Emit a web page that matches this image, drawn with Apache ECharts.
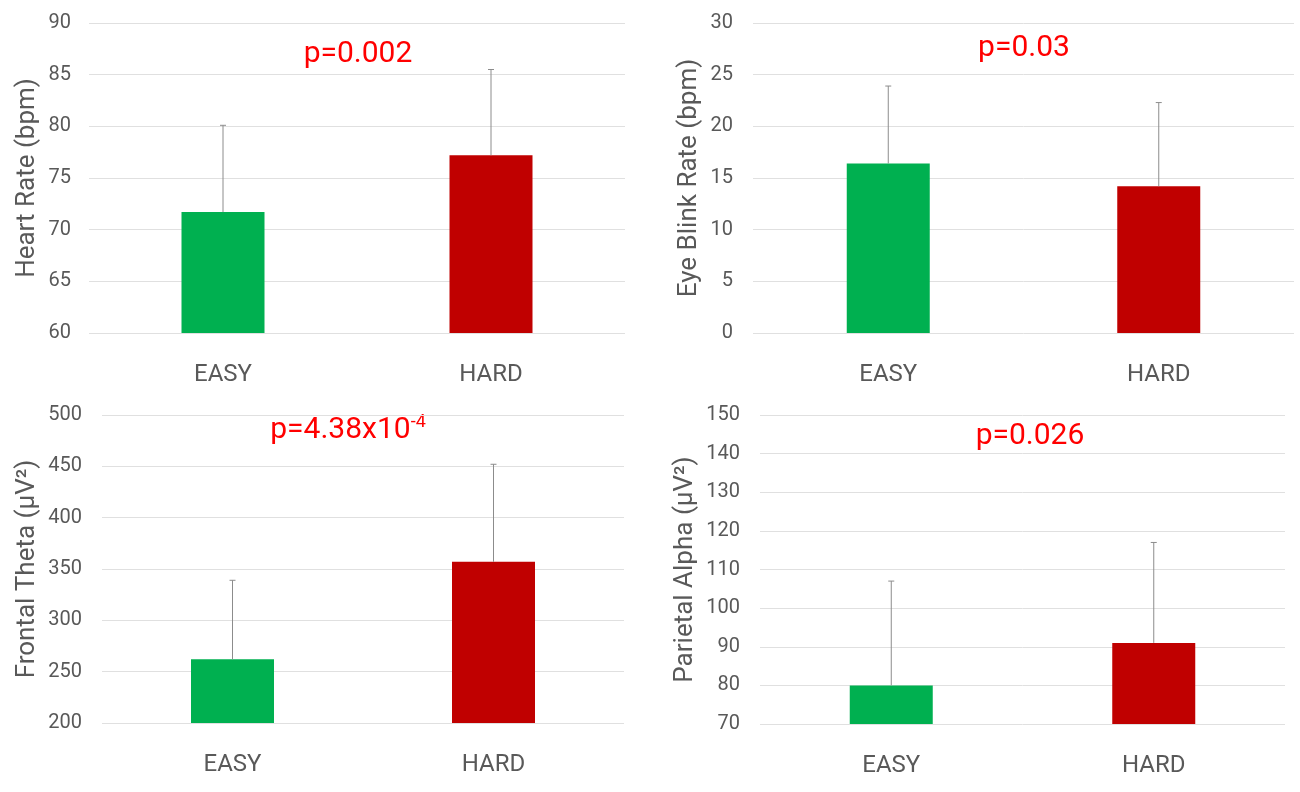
<!DOCTYPE html>
<html>
<head>
<meta charset="utf-8">
<script src="https://cdn.jsdelivr.net/npm/echarts@6/dist/echarts.min.js"></script>
<style>
  html, body { margin: 0; padding: 0; background: #fff; }
  #main { width: 1300px; height: 792px; }
</style>
</head>
<body>
<div id="main"></div>
<script>
// data
var categories = ['EASY', 'HARD'];

var heartRate = [71.7, 77.2];
var heartRateSd = [8.4, 8.3];

var blinkRate = [16.4, 14.2];
var blinkRateSd = [7.5, 8.1];

var frontalTheta = [262, 357];
var frontalThetaSd = [77, 95];

var parietalAlpha = [80, 91];
var parietalAlphaSd = [27, 26];

var pLabels = ['p=0.002', 'p=0.03', '{a|p=4.38x10}{b|-4}', 'p=0.026'];

var barColors = ['#00b050', '#c00000'];
var gray = '#595959';
var font = 'Roboto, sans-serif';

var panels = [
    { name: 'Heart Rate (bpm)', mean: heartRate, sd: heartRateSd, min: 60, max: 90, interval: 5,
      grid: { left: 89, top: 23, width: 536, height: 310 }, gap: 49, margin: 18 },
    { name: 'Eye Blink Rate (bpm)', mean: blinkRate, sd: blinkRateSd, min: 0, max: 30, interval: 5,
      grid: { left: 753, top: 23, width: 541, height: 310 }, gap: 51, margin: 20 },
    { name: 'Frontal Theta (\u00b5V\u00b2)', mean: frontalTheta, sd: frontalThetaSd, min: 200, max: 500, interval: 50,
      grid: { left: 102, top: 415, width: 522, height: 308 }, gap: 62, margin: 20 },
    { name: 'Parietal Alpha (\u00b5V\u00b2)', mean: parietalAlpha, sd: parietalAlphaSd, min: 70, max: 150, interval: 10,
      grid: { left: 760, top: 415, width: 525, height: 309 }, gap: 62, margin: 20 }
];

var pPos = [[358, 54], [1024, 48], [348, 430], [1030, 436]];

var grids = [], xAxes = [], yAxes = [], series = [], graphics = [];

panels.forEach(function (p, i) {
    grids.push(p.grid);
    xAxes.push({
        type: 'category',
        gridIndex: i,
        data: categories,
        axisLine: { show: false },
        axisTick: { show: false },
        axisLabel: { color: gray, fontSize: 24, fontFamily: font, margin: 30 }
    });
    yAxes.push({
        type: 'value',
        gridIndex: i,
        min: p.min,
        max: p.max,
        interval: p.interval,
        name: p.name,
        nameLocation: 'middle',
        nameGap: p.gap,
        nameTextStyle: { color: gray, fontSize: 26, fontFamily: font },
        axisLine: { show: false },
        axisTick: { show: false },
        axisLabel: { color: gray, fontSize: 20, fontFamily: font, margin: p.margin },
        splitLine: { lineStyle: { color: '#e0e0e0', width: 1 } }
    });
    series.push({
        type: 'bar',
        xAxisIndex: i,
        yAxisIndex: i,
        barWidth: 83,
        data: p.mean.map(function (v, k) {
            return { value: v, itemStyle: { color: barColors[k] } };
        })
    });
    // upper whisker only
    series.push({
        type: 'custom',
        xAxisIndex: i,
        yAxisIndex: i,
        z: 3,
        data: p.mean.map(function (v, k) { return [k, v, v + p.sd[k]]; }),
        renderItem: function (params, api) {
            var lo = api.coord([api.value(0), api.value(1)]);
            var hi = api.coord([api.value(0), api.value(2)]);
            var style = { stroke: '#8c8c8c', lineWidth: 1 };
            return {
                type: 'group',
                children: [
                    { type: 'line', shape: { x1: lo[0], y1: lo[1], x2: hi[0], y2: hi[1] }, style: style },
                    { type: 'line', shape: { x1: hi[0] - 3, y1: hi[1], x2: hi[0] + 3, y2: hi[1] }, style: style }
                ]
            };
        }
    });
    graphics.push({
        type: 'text',
        x: pPos[i][0],
        y: pPos[i][1],
        style: {
            text: pLabels[i],
            align: 'center',
            verticalAlign: 'middle',
            fill: '#ff0000',
            fontSize: 30,
            fontFamily: font,
            rich: {
                a: { fontSize: 30, fontFamily: font, fill: '#ff0000' },
                b: { fontSize: 18, fontFamily: font, fill: '#ff0000',
                     verticalAlign: 'top', lineHeight: 34, padding: [0, 0, 12, 0] }
            }
        }
    });
});

var chart = echarts.init(document.getElementById('main'));
chart.setOption({
    backgroundColor: '#fff',
    animation: false,
    grid: grids,
    xAxis: xAxes,
    yAxis: yAxes,
    series: series,
    graphic: graphics
});
</script>
</body>
</html>
